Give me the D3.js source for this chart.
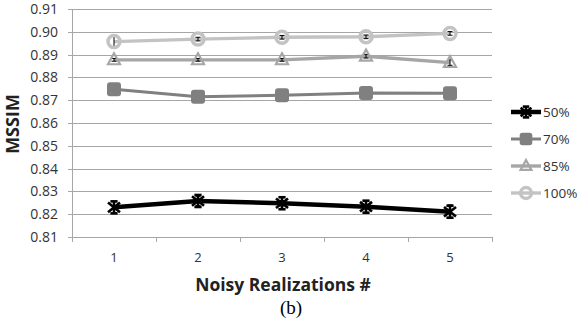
<!DOCTYPE html>
<html><head><meta charset="utf-8">
<script src="https://cdn.jsdelivr.net/npm/d3@7"></script>
<style>body{margin:0;background:#fff}svg{display:block}</style>
</head><body>
<svg id="c" width="579" height="329"></svg>
<script>
const categories = [1, 2, 3, 4, 5];
const yTicks = [0.81, 0.82, 0.83, 0.84, 0.85, 0.86, 0.87, 0.88, 0.89, 0.90, 0.91];
const seriesNames = ["50%", "70%", "85%", "100%"];
const s50 = [0.8230, 0.8258, 0.8248, 0.8233, 0.8211];
const s70 = [0.8748, 0.8715, 0.8722, 0.8732, 0.8730];
const s85 = [0.8877, 0.8877, 0.8877, 0.8893, 0.8865];
const s100 = [0.8957, 0.8968, 0.8976, 0.8978, 0.8993];
const e50 = [0.0008, 0.0020, 0.0012, 0.0010, 0.0030];
const e70 = [0.0008, 0.0008, 0.0008, 0.0008, 0.0008];
const e85 = [0.0006, 0.0006, 0.0006, 0.0008, 0.0012];
const e100 = [0.0028, 0.0008, 0.0008, 0.0008, 0.0008];

const series = [
  {name: seriesNames[0], values: s50, err: e50, color: "#000000", width: 4.5, marker: "star"},
  {name: seriesNames[1], values: s70, err: e70, color: "#808080", width: 3, marker: "square"},
  {name: seriesNames[2], values: s85, err: e85, color: "#a6a6a6", width: 3.4, marker: "triangle"},
  {name: seriesNames[3], values: s100, err: e100, color: "#c3c3c3", width: 3.4, marker: "circle"}
];

const svg = d3.select("#c");
const L = 72, R = 492, T = 9, B = 237;
const x = d3.scaleBand().domain(categories).range([L, R]);
const y = d3.scaleLinear().domain([0.81, 0.91]).range([B, T]);
const font = "'Open Sans', sans-serif";

svg.append("g").selectAll("line").data(yTicks).join("line")
  .attr("x1", L - 4).attr("x2", R).attr("y1", d => Math.round(y(d)) + 0.5).attr("y2", d => Math.round(y(d)) + 0.5)
  .attr("stroke", "#a6a6a6").attr("stroke-width", 1);
svg.append("line").attr("x1", L + 0.5).attr("x2", L + 0.5).attr("y1", T).attr("y2", B)
  .attr("stroke", "#a6a6a6");
const bounds = categories.map(c => x(c)).concat([R]);
svg.append("g").selectAll("line").data(bounds).join("line")
  .attr("x1", d => Math.round(d) + 0.5).attr("x2", d => Math.round(d) + 0.5)
  .attr("y1", B).attr("y2", B + 5).attr("stroke", "#a6a6a6");

svg.append("g").selectAll("text").data(yTicks).join("text")
  .attr("x", 58).attr("y", d => y(d)).attr("dy", "0.35em")
  .attr("text-anchor", "end").attr("font-family", font).attr("font-size", 14)
  .attr("fill", "#333").text(d => d.toFixed(2));
svg.append("g").selectAll("text").data(categories).join("text")
  .attr("x", d => x(d) + x.bandwidth() / 2).attr("y", 262)
  .attr("text-anchor", "middle").attr("font-family", font).attr("font-size", 13)
  .attr("fill", "#333").text(d => d);

svg.append("text").attr("x", 283).attr("y", 291).attr("text-anchor", "middle")
  .attr("font-family", font).attr("font-size", 17.5).attr("font-weight", "bold")
  .attr("fill", "#222").text("Noisy Realizations #");
svg.append("text").attr("transform", "translate(19,124) rotate(-90)").attr("text-anchor", "middle")
  .attr("font-family", font).attr("font-size", 18).attr("font-weight", "bold")
  .attr("fill", "#222").text("MSSIM");
svg.append("text").attr("x", 291).attr("y", 314).attr("text-anchor", "middle")
  .attr("font-family", "'Liberation Serif', 'Times New Roman', serif").attr("font-size", 19)
  .attr("fill", "#000").text("(b)");

function drawMarker(g, type, color, cx, cy, scale) {
  scale = scale || 1;
  if (type === "square") {
    const s = 14 * scale;
    g.append("rect").attr("x", cx - s / 2).attr("y", cy - s / 2).attr("width", s).attr("height", s)
      .attr("rx", 3 * scale).attr("fill", color);
  } else if (type === "triangle") {
    const h = 11 * scale, w = 12 * scale;
    g.append("path").attr("d", `M${cx},${cy - h * 0.6}L${cx + w / 2},${cy + h * 0.4}L${cx - w / 2},${cy + h * 0.4}Z`)
      .attr("fill", "none").attr("stroke", color).attr("stroke-width", 2.2);
  } else if (type === "circle") {
    g.append("circle").attr("cx", cx).attr("cy", cy).attr("r", 6 * scale)
      .attr("fill", "none").attr("stroke", color).attr("stroke-width", 3.5);
  } else if (type === "star") {
    const r = 6 * scale;
    const gg = g.append("g").attr("stroke", color).attr("stroke-width", 2.6);
    gg.append("line").attr("x1", cx - r).attr("x2", cx + r).attr("y1", cy - r * 0.8).attr("y2", cy + r * 0.8);
    gg.append("line").attr("x1", cx - r).attr("x2", cx + r).attr("y1", cy + r * 0.8).attr("y2", cy - r * 0.8);
    gg.append("line").attr("x1", cx - r * 0.6).attr("x2", cx + r * 0.6).attr("y1", cy - r).attr("y2", cy - r);
    gg.append("line").attr("x1", cx - r * 0.6).attr("x2", cx + r * 0.6).attr("y1", cy + r).attr("y2", cy + r);
    gg.append("line").attr("x1", cx).attr("x2", cx).attr("y1", cy - r).attr("y2", cy + r);
  }
}

const cx = c => x(c) + x.bandwidth() / 2;
const line = d3.line().x((d, i) => cx(categories[i])).y(d => y(d));

[...series].reverse().forEach(s => {
  const g = svg.append("g");
  g.append("path").attr("d", line(s.values)).attr("fill", "none")
    .attr("stroke", s.color).attr("stroke-width", s.width).attr("stroke-linejoin", "round");
  const eb = g.append("g").attr("stroke", "#000").attr("stroke-width", 1);
  s.values.forEach((v, i) => {
    const xx = cx(categories[i]);
    const y1 = y(v + s.err[i]), y2 = y(v - s.err[i]);
    eb.append("line").attr("x1", xx).attr("x2", xx).attr("y1", y1).attr("y2", y2);
    eb.append("line").attr("x1", xx - 2.5).attr("x2", xx + 2.5).attr("y1", y1).attr("y2", y1);
    eb.append("line").attr("x1", xx - 2.5).attr("x2", xx + 2.5).attr("y1", y2).attr("y2", y2);
  });
  s.values.forEach((v, i) => drawMarker(g, s.marker, s.color, cx(categories[i]), y(v)));
});

const lg = svg.append("g");
series.forEach((s, i) => {
  const ly = 112 + i * 27;
  lg.append("line").attr("x1", 511).attr("x2", 541).attr("y1", ly).attr("y2", ly)
    .attr("stroke", s.color).attr("stroke-width", s.width);
  drawMarker(lg, s.marker, s.color, 526, ly, 0.9);
  lg.append("text").attr("x", 543).attr("y", ly).attr("dy", "0.35em")
    .attr("font-family", font).attr("font-size", 13.5).attr("fill", "#333").text(s.name);
});
</script>
</body></html>
